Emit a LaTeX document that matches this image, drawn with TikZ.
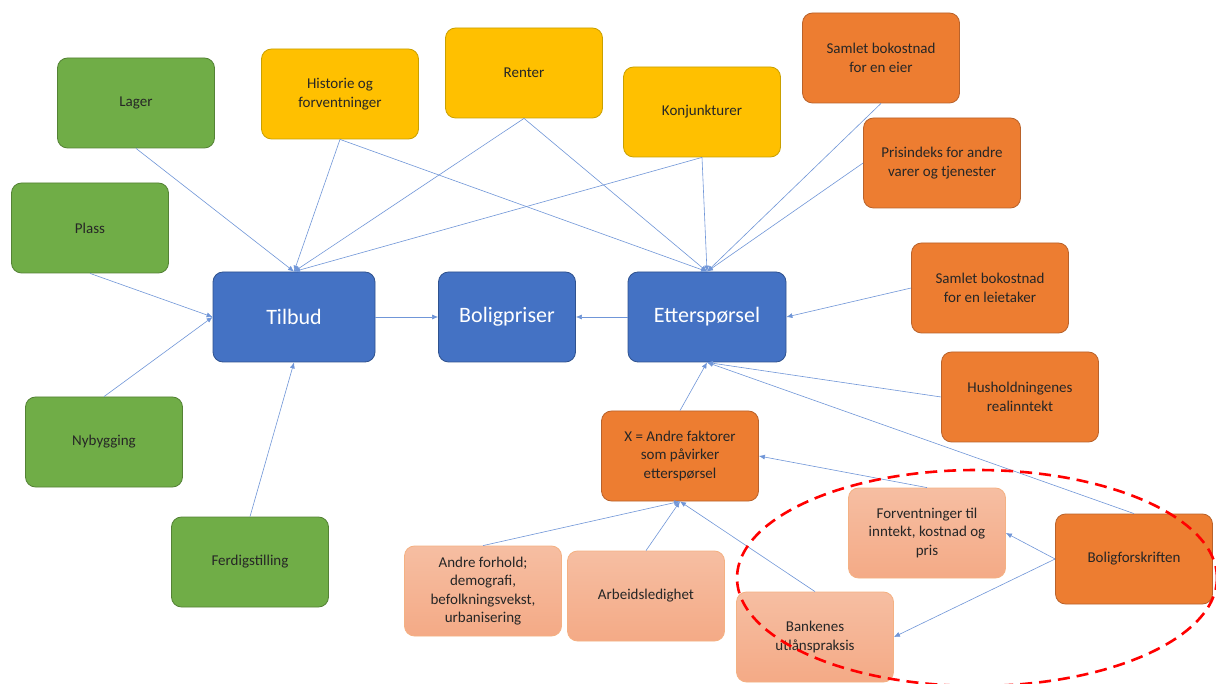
\documentclass[tikz,border=0pt]{standalone}
\usepackage{fontspec}
\setmainfont{Carlito}
\usetikzlibrary{arrows.meta}
\definecolor{grnfill}{HTML}{70AD47}
\definecolor{grnline}{HTML}{548235}
\definecolor{ylwfill}{HTML}{FFC000}
\definecolor{ylwline}{HTML}{C9A000}
\definecolor{orgfill}{HTML}{ED7D31}
\definecolor{orgline}{HTML}{B9622A}
\definecolor{lighttop}{HTML}{F6BEA2}
\definecolor{lightbot}{HTML}{F4AA86}
\definecolor{lightline}{HTML}{F4B183}
\definecolor{bluefill}{HTML}{4472C4}
\definecolor{blueline}{HTML}{2F528F}
\definecolor{linkblue}{HTML}{7096D8}
\definecolor{textdark}{HTML}{262626}
\tikzstyle{factor}=[rounded corners=10pt, minimum width=157pt, minimum height=90pt, align=center, text=textdark, font=\fontsize{15}{18.5}\selectfont, line width=0.8pt]
\tikzstyle{supply}=[factor, fill=grnfill, draw=grnline]
\tikzstyle{trend}=[factor, fill=ylwfill, draw=ylwline]
\tikzstyle{demand}=[factor, fill=orgfill, draw=orgline]
\tikzstyle{other}=[factor, top color=lighttop, bottom color=lightbot, draw=lightline]
\tikzstyle{market}=[factor, fill=bluefill, draw=blueline, text=white, font=\fontsize{22}{26}\selectfont]
\tikzstyle{link}=[draw=linkblue, line width=0.6pt, -{Latex[length=6pt,width=5pt]}]
\tikzstyle{ring}=[draw=red, line width=2.6pt, dash pattern=on 12pt off 7pt]

\begin{document}
\begin{tikzpicture}[x=1pt, y=-1pt]
  \useasboundingbox[fill=white] (0,0) rectangle (1216,684);

  % tilbudssiden
  \node[supply] (lager) at (136,103) {Lager};
  \node[supply] (plass) at (90,228) {Plass};
  \node[supply] (nybygging) at (104,442) {Nybygging};
  \node[supply] (ferdig) at (250,562) {Ferdigstilling};

  \node[trend] (historie) at (340,94) {Historie og\\forventninger};
  \node[trend] (renter) at (524,73) {Renter};
  \node[trend] (konjunktur) at (702,112) {Konjunkturer};

  % etterspørselssiden
  \node[demand] (eier) at (881,58) {Samlet bokostnad\\for en eier};
  \node[demand] (prisindeks) at (942,163) {Prisindeks for andre\\varer og tjenester};
  \node[demand] (leietaker) at (990,288) {Samlet bokostnad\\for en leietaker};
  \node[demand] (realinntekt) at (1020,397) {Husholdningenes\\realinntekt};
  \node[demand] (x_faktor) at (680,456) {X = Andre faktorer\\som påvirker\\etterspørsel};
  \node[demand] (forskrift) at (1134,559) {Boligforskriften};

  \node[other] (forhold) at (483,591) {Andre forhold;\\demografi,\\befolkningsvekst,\\urbanisering};
  \node[other] (ledighet) at (646,596) {Arbeidsledighet};
  \node[other] (utlaan) at (815,637) {Bankenes\\utlånspraksis};
  \node[other] (forventning) at (927,533) {Forventninger til\\inntekt, kostnad og\\pris};

  \node[market, minimum width=162pt] (tilbud) at (294,317) {Tilbud};
  \node[market, minimum width=137pt] (priser) at (507,317) {Boligpriser};
  \node[market, minimum width=158pt] (etter) at (707,317) {Etterspørsel};

  \foreach \src in {lager,historie,renter,konjunktur}
    \draw[link] (\src.south) -- (tilbud.north);
  \foreach \src in {historie,renter,konjunktur,eier}
    \draw[link] (\src.south) -- (etter.north);
  \draw[link] (prisindeks.west) -- (etter.north);
  \draw[link] (plass.south) -- (tilbud.west);
  \draw[link] (nybygging.north) -- (tilbud.west);
  \draw[link] (ferdig.north) -- (tilbud.south);
  \draw[link] (tilbud.east) -- (priser.west);
  \draw[link] (etter.west) -- (priser.east);
  \draw[link] (leietaker.west) -- (etter.east);
  \foreach \src in {realinntekt.west,x_faktor.north,forskrift.north}
    \draw[link] (\src) -- (etter.south);
  \draw[link] (forventning.north) -- (x_faktor.east);
  \foreach \src in {forhold,ledighet,utlaan}
    \draw[link] (\src.north) -- (x_faktor.south);
  \draw[link] (forskrift.west) -- (forventning.east);
  \draw[link] (forskrift.west) -- (utlaan.east);

  \draw[ring] (977,578) ellipse [x radius=240, y radius=108];
\end{tikzpicture}
\end{document}
